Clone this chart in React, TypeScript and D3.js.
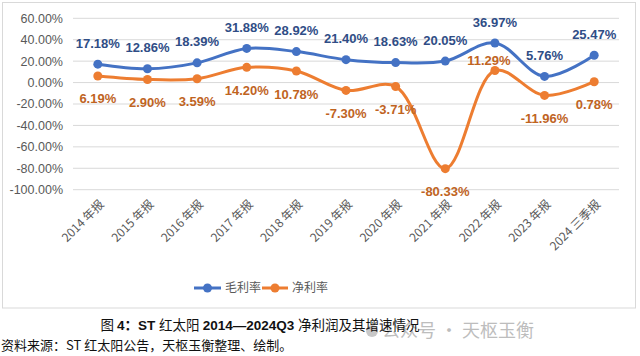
import React from "react";
import * as d3 from "d3";

const categories = ["2014 年报", "2015 年报", "2016 年报", "2017 年报", "2018 年报", "2019 年报", "2020 年报", "2021 年报", "2022 年报", "2023 年报", "2024 三季报"];
const grossMargin = [17.18, 12.86, 18.39, 31.88, 28.92, 21.40, 18.63, 20.05, 36.97, 5.76, 25.47];
const netMargin = [6.19, 2.90, 3.59, 14.20, 10.78, -7.30, -3.71, -80.33, 11.29, -11.96, 0.78];
const yTicks = [60, 40, 20, 0, -20, -40, -60, -80, -100];
const seriesNames = ["毛利率", "净利率"];
const netLabelAbove = [false, false, false, false, false, false, false, false, true, false, false];

const W = 640, H = 356;
const BLUE = "#4472C4", ORANGE = "#ED7D31";
const BLUE_T = "#2F4D86", ORANGE_T = "#C0641F";

export default function App() {
  const x = d3.scaleBand().domain(categories).range([73, 619]);
  const y = d3.scaleLinear().domain([-100, 60]).range([189.7, 18.3]);
  const cx = (i: number) => (x(categories[i]) as number) + x.bandwidth() / 2;
  const line = d3.line<number>().x((_, i) => cx(i)).y((d) => y(d)).curve(d3.curveCatmullRom.alpha(0.5));
  const fmt = (v: number) => v.toFixed(2) + "%";

  return (
    <svg width={W} height={H} style={{ position: "absolute", left: 0, top: 0, background: "#fff" }}>
      <rect x={0} y={0} width={W} height={H} fill="#fff" />
      <rect x={2.5} y={2.5} width={633} height={305.5} fill="#fff" stroke="#D9D9D9" strokeWidth={1} />
      {yTicks.map((t) => (
        <g key={t}>
          <line x1={73} x2={619} y1={y(t)} y2={y(t)} stroke="#D9D9D9" strokeWidth={1} />
          <text x={63} y={y(t)} dy="0.35em" textAnchor="end" fontFamily="Liberation Sans, Arial, sans-serif" fontSize={12.5} fill="#595959">
            {t.toFixed(2) + "%"}
          </text>
        </g>
      ))}
      {categories.map((c, i) => (
        <text key={c} transform={`translate(${cx(i) + 4},${202}) rotate(-45)`} textAnchor="end" dy="0.35em"
          fontFamily="Noto Sans CJK SC, sans-serif" fontSize={12} fill="#595959">{c}</text>
      ))}
      <path d={line(grossMargin) || ""} fill="none" stroke={BLUE} strokeWidth={3} strokeLinecap="round" />
      <path d={line(netMargin) || ""} fill="none" stroke={ORANGE} strokeWidth={3} strokeLinecap="round" />
      {grossMargin.map((v, i) => (
        <circle key={"g" + i} cx={cx(i)} cy={y(v)} r={4.5} fill={BLUE} />
      ))}
      {netMargin.map((v, i) => (
        <circle key={"n" + i} cx={cx(i)} cy={y(v)} r={4.5} fill={ORANGE} />
      ))}
      {grossMargin.map((v, i) => (
        <text key={"gl" + i} x={cx(i)} y={y(v) - 21} dy="0.35em" textAnchor="middle"
          fontFamily="Liberation Sans, Arial, sans-serif" fontWeight="bold" fontSize={13} fill={BLUE_T}>{fmt(v)}</text>
      ))}
      {netMargin.map((v, i) => (
        <text key={"nl" + i} x={cx(i) + (netLabelAbove[i] ? -6 : 0)} y={y(v) + (netLabelAbove[i] ? -10 : 23)} dy="0.35em" textAnchor="middle"
          fontFamily="Liberation Sans, Arial, sans-serif" fontWeight="bold" fontSize={13} fill={ORANGE_T}>{fmt(v)}</text>
      ))}
      <g>
        <line x1={194} x2={221} y1={288} y2={288} stroke={BLUE} strokeWidth={3} />
        <circle cx={207.5} cy={288} r={4.5} fill={BLUE} />
        <text x={225} y={288} dy="0.35em" fontFamily="Noto Sans CJK SC, sans-serif" fontSize={12} fill="#595959">{seriesNames[0]}</text>
        <line x1={262} x2={288} y1={288} y2={288} stroke={ORANGE} strokeWidth={3} />
        <circle cx={275} cy={288} r={4.5} fill={ORANGE} />
        <text x={292} y={288} dy="0.35em" fontFamily="Noto Sans CJK SC, sans-serif" fontSize={12} fill="#595959">{seriesNames[1]}</text>
      </g>
      <circle cx={372} cy={331} r={6} fill="#C8C8C8" />
      <text x={382} y={331} dy="0.35em" fontFamily="Noto Sans CJK SC, sans-serif" fontSize={18} fill="#BDBDBD">公众号 · 天枢玉衡</text>
      <text x={260} y={325} dy="0.35em" textAnchor="middle" fontFamily="Noto Sans CJK SC, sans-serif" fontSize={13.5} fill="#111">
        <tspan>图 </tspan>
        <tspan fontFamily="Liberation Sans, Arial, sans-serif" fontWeight="bold">4</tspan>
        <tspan fontWeight="bold">：</tspan>
        <tspan fontFamily="Liberation Sans, Arial, sans-serif" fontWeight="bold">ST </tspan>
        <tspan>红太阳 </tspan>
        <tspan fontFamily="Liberation Sans, Arial, sans-serif" fontWeight="bold">2014—2024Q3 </tspan>
        <tspan>净利润及其增速情况</tspan>
      </text>
      <text x={1} y={345} dy="0.35em" fontFamily="Noto Sans CJK SC, sans-serif" fontSize={13} fill="#111">
        资料来源：ST 红太阳公告，天枢玉衡整理、绘制。
      </text>
    </svg>
  );
}
